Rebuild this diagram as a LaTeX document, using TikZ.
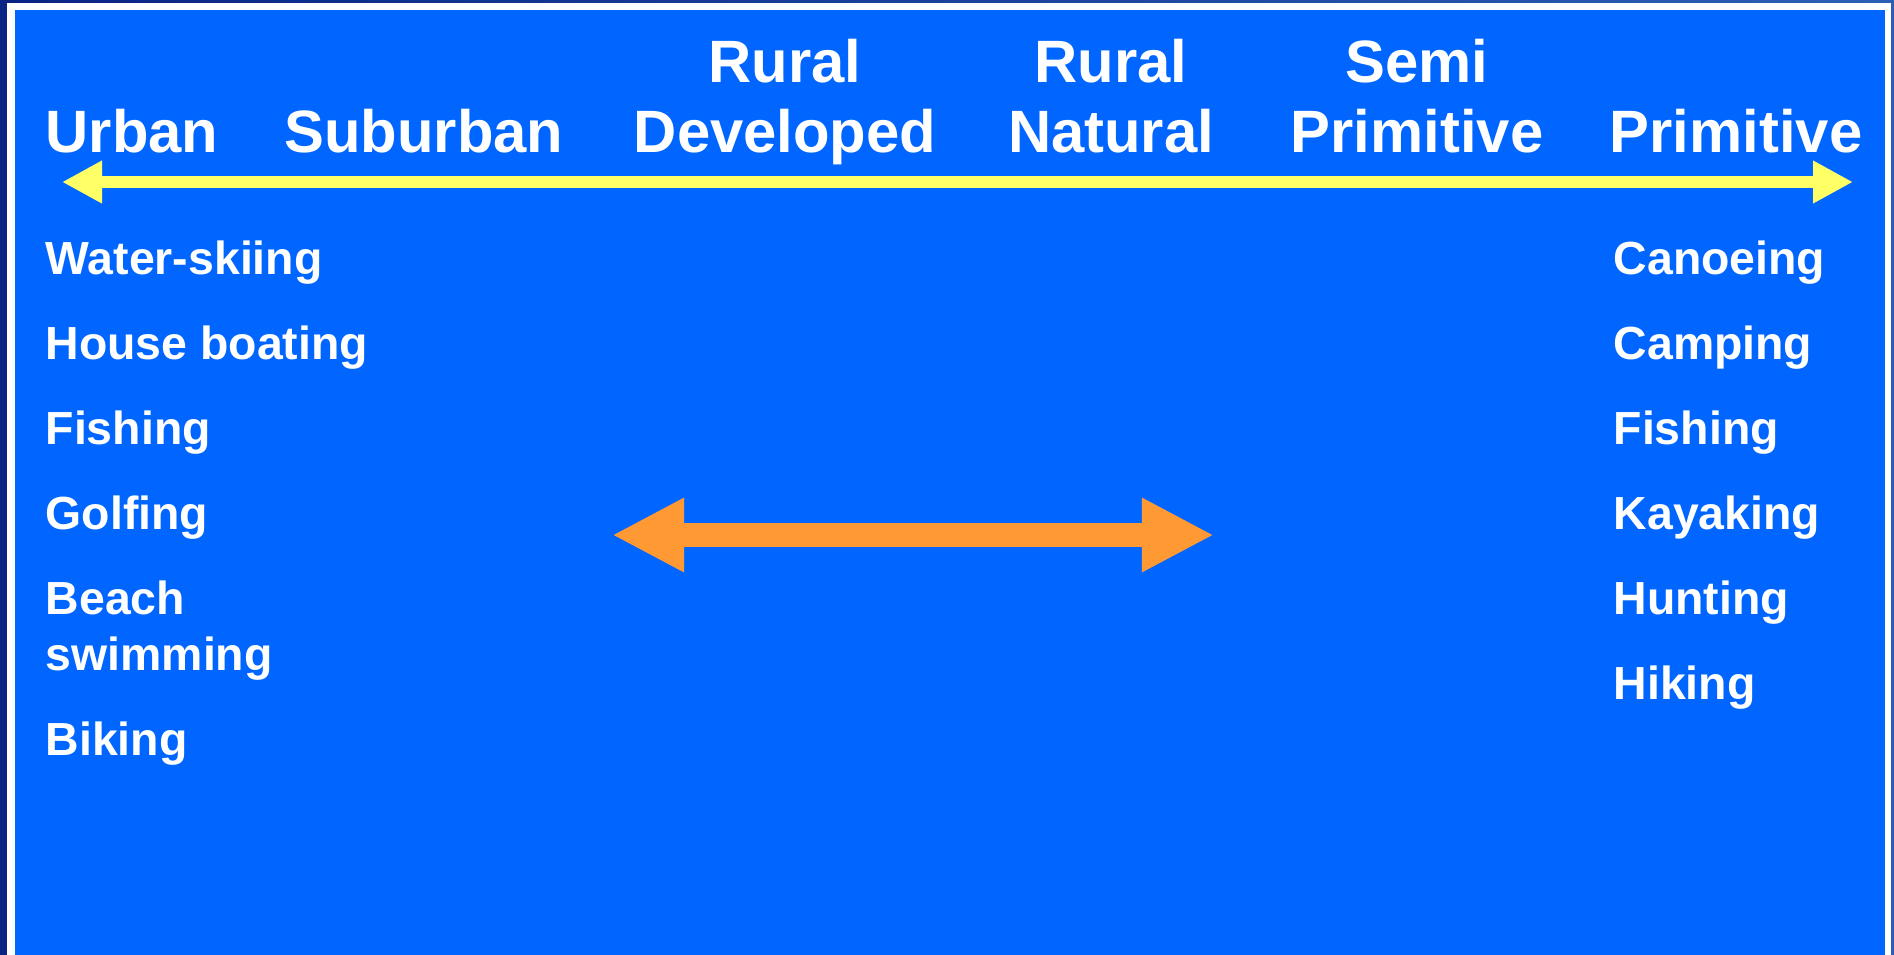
\documentclass[tikz,border=0pt]{standalone}
\usepackage{fontspec}
\setmainfont{Liberation Sans}
\usetikzlibrary{arrows.meta}
\definecolor{slideblue}{HTML}{0066FF}
\definecolor{navyedge}{HTML}{0A2484}
\definecolor{navylight}{HTML}{2B5FB5}
\definecolor{spanyellow}{HTML}{FFFF66}
\definecolor{midorange}{HTML}{FF9933}
\tikzset{
  headlbl/.style={text=white, inner sep=0pt, anchor=base, align=center,
    font=\fontsize{17}{19.9}\selectfont\bfseries},
  actlbl/.style={text=white, inner sep=0pt, anchor=base west, align=left,
    font=\fontsize{13.2}{15.9}\selectfont\bfseries},
  spanarrow/.style={draw=spanyellow, line width=0.12cm,
    {Triangle[length=0.4cm,width=0.4cm]}-{Triangle[length=0.4cm,width=0.4cm]}},
  midarrow/.style={draw=midorange, line width=0.24cm,
    {Triangle[length=0.72cm,width=0.69cm]}-{Triangle[length=0.72cm,width=0.69cm]}}
}
\begin{document}
\begin{tikzpicture}[x=0.01cm, y=-0.01cm]

    \def \rowgap {85} % distance between activity rows
    \useasboundingbox (0,0) rectangle (1894,954);
    % slide background and frame
    \shade[left color=navyedge, right color=navylight] (0,0) rectangle (1894,954);
    \fill[white] (7,3) rectangle (1891,960);
    \fill[slideblue] (15,10) rectangle (1885,960);

    % ends of the arrows
    \coordinate (urbanend) at (62,182);
    \coordinate (primend) at (1853,182);
    \coordinate (midleft) at (612,535);
    \coordinate (midright) at (1214,535);

    % spectrum labels
    \node[headlbl] (urban) at (132,152) {Urban};
    \node[headlbl] (suburban) at (424,152) {Suburban};
    \node[headlbl] (ruraldev) at (785,152) {Rural\\Developed};
    \node[headlbl] (ruralnat) at (1111,152) {Rural\\Natural};
    \node[headlbl] (semiprim) at (1417,152) {Semi\\Primitive};
    \node[headlbl] (primitive) at (1736,152) {Primitive};

    % the spectrum
    \draw[spanarrow] (urbanend) -- (primend);
    \draw[midarrow] (midleft) -- (midright);

    % activities at each end
    \foreach \act [count=\i] in {Water-skiing, House boating, Fishing, Golfing}
      \node[actlbl] (urbanact\i) at (45,{274+\rowgap*(\i-1)}) {\act};
    \node[actlbl] (urbanact5) at (45,670) {Beach\\swimming};
    \node[actlbl] (urbanact6) at (45,755) {Biking};
    \foreach \act [count=\i] in {Canoeing, Camping, Fishing, Kayaking, Hunting, Hiking}
      \node[actlbl] (primact\i) at (1613,{274+\rowgap*(\i-1)}) {\act};
  \end{tikzpicture}
\end{document}
